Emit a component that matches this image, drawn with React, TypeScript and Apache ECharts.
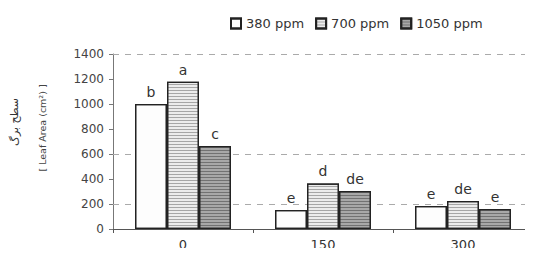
import React, { useEffect, useRef } from "react";
import * as echarts from "echarts";

const categories = ["0", "150", "300"];
const seriesNames = ["380 ppm", "700 ppm", "1050 ppm"];
const values380 = [1000, 152, 184];
const values700 = [1178, 365, 224];
const values1050 = [665, 304, 160];
const letters380 = ["b", "e", "e"];
const letters700 = ["a", "d", "de"];
const letters1050 = ["c", "de", "e"];
const gridValues = [1400, 600, 200];
const yTitleFa = "سطح برگ";
const yTitleEn = "[ Leaf Area (cm²) ]";

const FONT = "DejaVu Sans";

export default function App() {
  const ref = useRef<HTMLDivElement>(null);
  useEffect(() => {
    if (!ref.current) return;
    const chart = echarts.init(ref.current, null, { renderer: "svg" });
    const mkLabel = (letters: string[]) => ({
      show: true,
      position: "top" as const,
      distance: 5,
      color: "#333",
      fontFamily: FONT,
      fontSize: 14,
      formatter: (p: any) => letters[p.dataIndex],
    });
    const stripe = (color: string) => ({
      symbol: "rect",
      symbolSize: 1,
      dashArrayX: [1, 0],
      dashArrayY: [1, 2],
      color,
    });
    chart.setOption({
      animation: false,
      backgroundColor: "#fff",
      textStyle: { fontFamily: FONT },
      legend: {
        left: 225,
        top: 12,
        itemWidth: 10,
        itemHeight: 10,
        itemGap: 11,
        icon: "rect",
        textStyle: { fontFamily: FONT, fontSize: 13, color: "#333" },
        data: seriesNames,
      },
      grid: { left: 113, top: 54, width: 423, height: 175 },
      xAxis: {
        type: "category",
        data: categories,
        axisLine: { lineStyle: { color: "#555", width: 1 } },
        axisTick: { show: true, length: 4, lineStyle: { color: "#555" } },
        axisLabel: { fontFamily: FONT, fontSize: 13, color: "#333", margin: 9 },
      },
      yAxis: {
        type: "value",
        min: 0,
        max: 1400,
        interval: 200,
        axisLine: { show: true, lineStyle: { color: "#777", width: 1 } },
        axisTick: { show: true, length: 4, lineStyle: { color: "#777" } },
        axisLabel: {
          fontFamily: FONT,
          fontSize: 12,
          color: "#444",
          margin: 9,
          formatter: (v: number) => String(v),
        },
        splitLine: { show: false },
      },
      graphic: [
        {
          type: "text",
          x: 14,
          y: 122,
          rotation: Math.PI / 2,
          style: {
            text: yTitleFa,
            font: `11px ${FONT}`,
            fill: "#333",
            align: "center",
            verticalAlign: "middle",
          },
        },
        {
          type: "text",
          x: 42,
          y: 128,
          rotation: Math.PI / 2,
          style: {
            text: yTitleEn,
            font: `9.5px ${FONT}`,
            fill: "#444",
            align: "center",
            verticalAlign: "middle",
          },
        },
      ],
      series: [
        {
          name: seriesNames[0],
          type: "bar",
          z: 3,
          barWidth: 32,
          barGap: "0%",
          data: values380,
          itemStyle: {
            color: "#fdfdfd",
            borderColor: "#222",
            borderWidth: 1.3,
            decal: {
              symbol: "circle",
              symbolSize: 0.4,
              dashArrayX: [1, 7],
              dashArrayY: [1, 9],
              color: "rgba(0,0,0,0.15)",
            },
          },
          label: mkLabel(letters380),
          markLine: {
            silent: true,
            symbol: "none",
            z: 1,
            label: { show: false },
            lineStyle: { color: "#aaa", type: [6, 6], width: 1 },
            data: gridValues.map((v) => ({ yAxis: v })),
          },
        },
        {
          name: seriesNames[1],
          type: "bar",
          z: 3,
          barWidth: 32,
          barGap: "0%",
          data: values700,
          itemStyle: {
            color: "#ececec",
            borderColor: "#222",
            borderWidth: 1.3,
            decal: stripe("rgba(80,80,80,0.45)"),
          },
          label: mkLabel(letters700),
        },
        {
          name: seriesNames[2],
          type: "bar",
          z: 3,
          barWidth: 32,
          barGap: "0%",
          data: values1050,
          itemStyle: {
            color: "#a8a8a8",
            borderColor: "#222",
            borderWidth: 1.3,
            decal: stripe("rgba(60,60,60,0.5)"),
          },
          label: mkLabel(letters1050),
        },
      ],
    });
    return () => chart.dispose();
  }, []);
  return <div ref={ref} style={{ width: 533, height: 256, margin: -8 }} />;
}
